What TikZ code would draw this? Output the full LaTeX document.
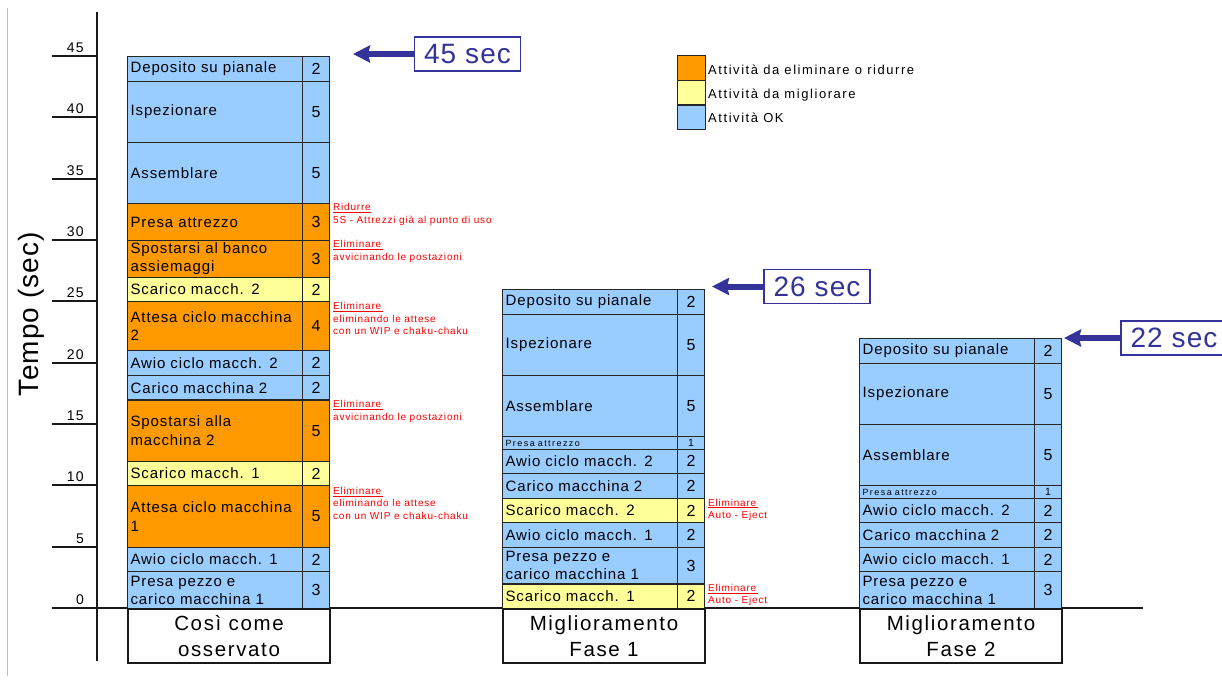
\documentclass[tikz,border=0pt]{standalone}
\usepackage{fontspec}
\setmainfont{Liberation Sans}
\newfontfamily\lsCell[LetterSpace=6]{Liberation Sans}
\newfontfamily\lsWide[LetterSpace=10]{Liberation Sans}
\newfontfamily\lsLegend[LetterSpace=12]{Liberation Sans}
\newfontfamily\lsTiny[LetterSpace=16]{Liberation Sans}
\newfontfamily\lsNote[LetterSpace=8]{Liberation Sans}
\newfontfamily\lsCap[LetterSpace=8]{Liberation Sans}
\newfontfamily\lsBig[LetterSpace=4]{Liberation Sans}
\usetikzlibrary{arrows.meta}

\definecolor{okblue}{HTML}{99CCFF}
\definecolor{elimorange}{HTML}{FF9900}
\definecolor{improveyellow}{HTML}{FFFF99}
\definecolor{navy}{HTML}{333399}
\definecolor{notered}{HTML}{FF0000}

% one task of a stacked bar: name, left x, start time, duration, fill, label
\newcommand\taskcell[6]{%
  \pgfmathsetmacro\celltop{608-12.267*(#3+#4)}%
  \pgfmathsetmacro\cellh{12.267*#4}%
  \node[labelcell, fill=#5, minimum height=\cellh pt, anchor=north west] (#1) at (#2,\celltop) {#6};
  \node[numcell, fill=#5, minimum height=\cellh pt, anchor=north west] (#1n) at (#2+175,\celltop) {#4};
}
% the short one-second task, set in a small font
\newcommand\tinycell[4]{%
  \pgfmathsetmacro\celltop{608-12.267*(#3+1)}%
  \node[labelcell, fill=#4, minimum height=12.267pt, anchor=north west,
        font=\lsTiny\fontsize{9}{10}\selectfont] (#1) at (#2,\celltop) {Presa attrezzo};
  \node[numcell, fill=#4, minimum height=12.267pt, anchor=north west,
        font=\fontsize{10.5}{11}\selectfont] (#1n) at (#2+175,\celltop) {1};
}

\tikzset{
  labelcell/.style={draw=black!85, line width=1.1pt, text width=169pt, inner xsep=3pt,
    inner ysep=0pt, align=left, font=\lsCell\fontsize{15}{18.3}\selectfont},
  numcell/.style={draw=black!85, line width=1.1pt, minimum width=27pt, inner sep=0pt,
    font=\fontsize{16}{19}\selectfont},
  captionbox/.style={draw=black!90, line width=2pt, minimum width=202pt, minimum height=53.5pt,
    inner sep=0pt, align=center, font=\lsCap\fontsize{20.5}{26}\selectfont},
  axisline/.style={draw=black!90, line width=2.2pt},
  tickline/.style={draw=black!90, line width=1.8pt},
  ticklabel/.style={inner sep=0pt, font=\lsWide\fontsize{14}{16}\selectfont},
  note/.style={inner sep=0pt, align=left, text=notered, font=\lsNote\fontsize{10}{12.4}\selectfont},
  secbox/.style={draw=navy, line width=1.3pt, text=navy, minimum width=106pt, minimum height=34pt,
    inner sep=0pt, font=\lsBig\fontsize{28}{30}\selectfont},
  bigarrow/.style={draw=navy, line width=6pt, -{Stealth[length=17pt,width=17pt,inset=2pt]}},
  legendbox/.style={draw=black!85, line width=1.1pt, minimum width=28pt, inner sep=0pt},
  legendtext/.style={inner sep=0pt, text height=9.5pt, text depth=2.5pt,
    font=\lsLegend\fontsize{13}{15}\selectfont},
}

\begin{document}
\begin{tikzpicture}[x=1pt, y=-1pt]
\useasboundingbox (0,0) rectangle (1222,682);
\fill[white] (0,0) rectangle (1222,682);

% page margin line
\draw[black!25, line width=1pt] (7,8) -- (7,676);

% axes and ticks
\draw[axisline] (97,12) -- (97,661);
\draw[axisline] (97,608) -- (1143,608);
\foreach \t in {0,5,...,45} {
  \pgfmathsetmacro\ty{608-12.267*\t}
  \draw[tickline] (52,\ty) -- (97,\ty);
  \node[ticklabel, anchor=base east] (tick\t) at (84,\ty-3.5) {\t};
}
\node[rotate=90, inner sep=0pt, font=\lsBig\fontsize{28}{30}\selectfont] (ylabel) at (31,314) {Tempo (sec)};

% current state
\taskcell{a1}{127}{0}{3}{okblue}{Presa pezzo e\\carico macchina 1}
\taskcell{a2}{127}{3}{2}{okblue}{Awio ciclo macch. 1}
\taskcell{a3}{127}{5}{5}{elimorange}{Attesa ciclo macchina\\1}
\taskcell{a4}{127}{10}{2}{improveyellow}{Scarico macch. 1}
\taskcell{a5}{127}{12}{5}{elimorange}{Spostarsi alla\\macchina 2}
\taskcell{a6}{127}{17}{2}{okblue}{Carico macchina 2}
\taskcell{a7}{127}{19}{2}{okblue}{Awio ciclo macch. 2}
\taskcell{a8}{127}{21}{4}{elimorange}{Attesa ciclo macchina\\2}
\taskcell{a9}{127}{25}{2}{improveyellow}{Scarico macch. 2}
\taskcell{a10}{127}{27}{3}{elimorange}{Spostarsi al banco\\assiemaggi}
\taskcell{a11}{127}{30}{3}{elimorange}{Presa attrezzo}
\taskcell{a12}{127}{33}{5}{okblue}{Assemblare}
\taskcell{a13}{127}{38}{5}{okblue}{Ispezionare}
\taskcell{a14}{127}{43}{2}{okblue}{Deposito su pianale}
\node[captionbox, anchor=north west] (cap1) at (127,608) {Così come\\osservato};

% improvement, phase 1
\taskcell{b1}{502}{0}{2}{improveyellow}{Scarico macch. 1}
\taskcell{b2}{502}{2}{3}{okblue}{Presa pezzo e\\carico macchina 1}
\taskcell{b3}{502}{5}{2}{okblue}{Awio ciclo macch. 1}
\taskcell{b4}{502}{7}{2}{improveyellow}{Scarico macch. 2}
\taskcell{b5}{502}{9}{2}{okblue}{Carico macchina 2}
\taskcell{b6}{502}{11}{2}{okblue}{Awio ciclo macch. 2}
\tinycell{b7}{502}{13}{okblue}
\taskcell{b8}{502}{14}{5}{okblue}{Assemblare}
\taskcell{b9}{502}{19}{5}{okblue}{Ispezionare}
\taskcell{b10}{502}{24}{2}{okblue}{Deposito su pianale}
\node[captionbox, anchor=north west] (cap2) at (502,608) {Miglioramento\\Fase 1};

% improvement, phase 2
\taskcell{c1}{859}{0}{3}{okblue}{Presa pezzo e\\carico macchina 1}
\taskcell{c2}{859}{3}{2}{okblue}{Awio ciclo macch. 1}
\taskcell{c3}{859}{5}{2}{okblue}{Carico macchina 2}
\taskcell{c4}{859}{7}{2}{okblue}{Awio ciclo macch. 2}
\tinycell{c5}{859}{9}{okblue}
\taskcell{c6}{859}{10}{5}{okblue}{Assemblare}
\taskcell{c7}{859}{15}{5}{okblue}{Ispezionare}
\taskcell{c8}{859}{20}{2}{okblue}{Deposito su pianale}
\node[captionbox, anchor=north west] (cap3) at (859,608) {Miglioramento\\Fase 2};

% notes on the tasks to remove or reduce
\node[note, anchor=north west] (n1) at (333,203.5) {\underline{Ridurre}\\5S - Attrezzi già al punto di uso};
\node[note, anchor=north west] (n2) at (333,240.3) {\underline{Eliminare\,}\\avvicinando le postazioni};
\node[note, anchor=north west] (n3) at (333,302.3) {\underline{Eliminare\,}\\eliminando le attese\\con un WIP e chaku-chaku};
\node[note, anchor=north west] (n4) at (333,400.3) {\underline{Eliminare\,}\\avvicinando le postazioni};
\node[note, anchor=north west] (n5) at (333,487) {\underline{Eliminare\,}\\eliminando le attese\\con un WIP e chaku-chaku};
\node[note, anchor=north west] (n6) at (708,498.6) {\underline{Eliminare\,}\\Auto - Eject};
\node[note, anchor=north west] (n7) at (708,584) {\underline{Eliminare\,}\\Auto - Eject};

% cycle times
\node[secbox] (b45) at (467.5,54) {45 sec};
\coordinate (tip45) at (353,54);
\draw[bigarrow] (b45.west) -- (tip45);
\node[secbox] (b26) at (817,286.5) {26 sec};
\coordinate (tip26) at (712,286.5);
\draw[bigarrow] (b26.west) -- (tip26);
\node[secbox] (b22) at (1174,338) {22 sec};
\coordinate (tip22) at (1064,338);
\draw[bigarrow] (b22.west) -- (tip22);

% legend
\node[legendbox, fill=elimorange, minimum height=25pt, anchor=north west] (lg1) at (677,55) {};
\node[legendbox, fill=improveyellow, minimum height=24.5pt, anchor=north west] (lg2) at (677,80) {};
\node[legendbox, fill=okblue, minimum height=24.5pt, anchor=north west] (lg3) at (677,104.5) {};
\node[legendtext, anchor=west] (lt1) at (708,71.5) {Attività da eliminare o ridurre};
\node[legendtext, anchor=west] (lt2) at (708,95.5) {Attività da migliorare};
\node[legendtext, anchor=west] (lt3) at (708,119.5) {Attività OK};
\end{tikzpicture}
\end{document}
